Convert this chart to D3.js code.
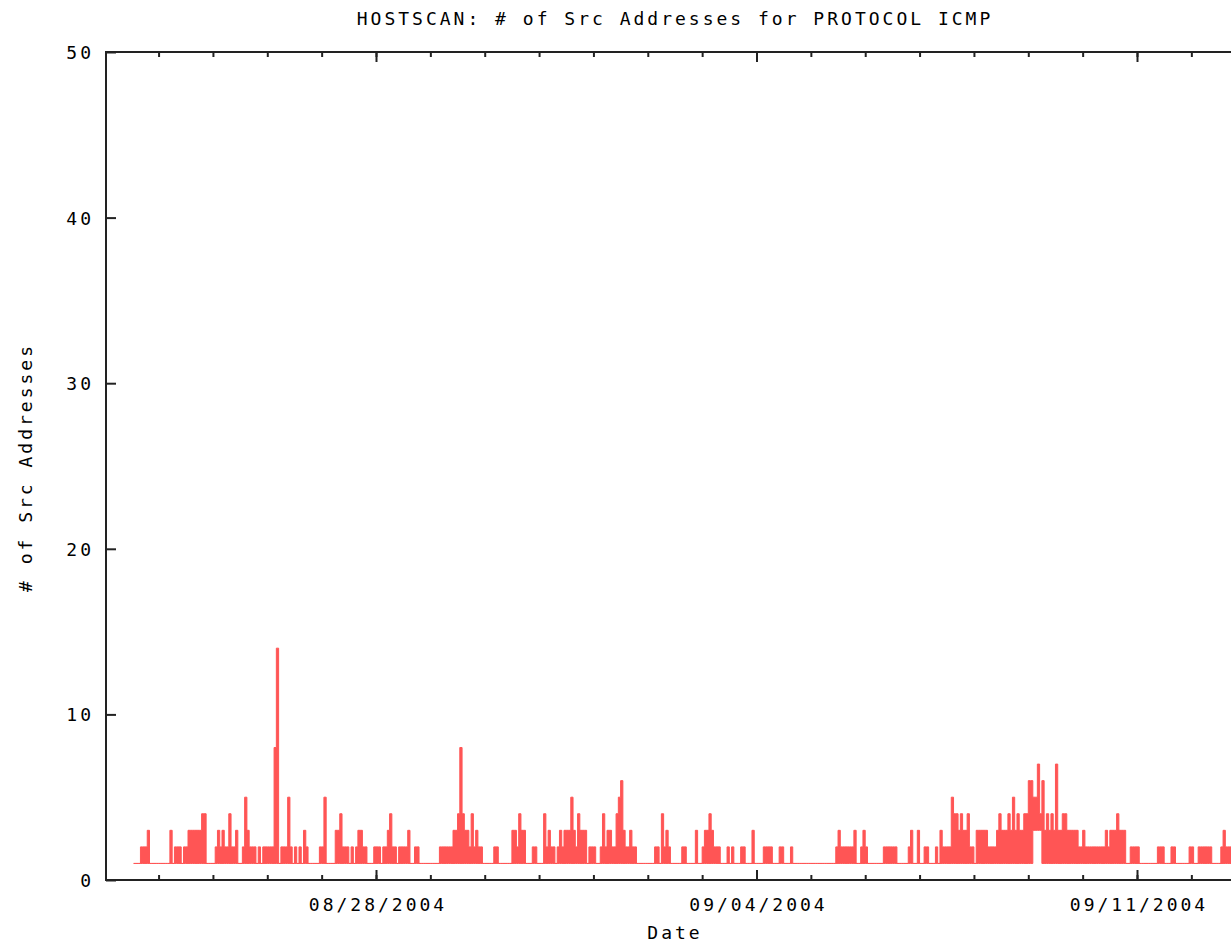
<!DOCTYPE html>
<html>
<head>
<meta charset="utf-8">
<script src="https://cdn.jsdelivr.net/npm/d3@7/dist/d3.min.js"></script>
<style>
  body { margin: 0; background: #fff; }
  text { font-family: "DejaVu Sans Mono", monospace; font-size: 18px; letter-spacing: 3px; fill: #000; }
</style>
</head>
<body>
<div id="chart"></div>
<script>
// hourly number of src addresses, first value = 08/23/2004 13:00
var startHour = new Date(2004, 7, 23, 13);
var counts = [
  1,1,1,2,2,2,3,1,1,1,1,                                  // 08/23 13h-23h
  1,1,1,1,1,3,1,2,2,2,1,2,2,3,3,3,3,3,3,4,4,1,1,1,        // 08/24
  1,2,3,2,3,2,2,4,2,2,3,1,1,2,5,3,2,2,2,1,2,1,2,2,        // 08/25
  2,2,2,8,14,1,2,2,2,5,2,1,2,1,2,1,3,2,1,1,1,1,1,2,       // 08/26
  2,5,1,1,1,1,3,3,4,2,2,2,1,2,1,2,3,3,2,2,1,1,1,2,        // 08/27
  2,2,1,2,2,3,4,2,2,1,2,2,2,2,3,1,1,2,2,1,1,1,1,1,        // 08/28
  1,1,1,1,2,2,2,2,2,2,3,3,4,8,4,3,3,2,4,2,3,2,2,1,        // 08/29
  1,1,1,1,2,2,1,1,1,1,1,1,3,3,2,4,3,3,1,1,1,2,2,1,        // 08/30
  1,1,4,2,3,2,2,1,2,3,2,3,3,3,5,3,2,4,3,3,3,1,2,2,        // 08/31
  2,1,1,2,4,2,3,3,2,2,4,5,6,3,2,2,3,2,2,1,1,1,1,1,        // 09/01
  1,1,1,2,2,1,4,2,3,2,1,1,1,1,1,2,2,1,1,1,1,3,1,1,        // 09/02
  2,3,3,4,3,2,2,2,1,1,1,2,1,2,1,1,1,2,2,1,1,1,3,1,        // 09/03
  1,1,1,2,2,2,2,1,1,1,2,2,1,1,1,2,1,1,1,1,1,1,1,1,        // 09/04
  1,1,1,1,1,1,1,1,1,1,1,2,3,2,2,2,2,2,2,3,1,1,2,3,        // 09/05
  2,1,1,1,1,1,1,1,2,2,2,2,2,2,1,1,1,1,1,2,3,1,1,3,        // 09/06
  1,1,2,2,1,1,1,2,1,3,2,2,2,2,5,4,4,3,4,3,3,4,2,2,        // 09/07
  1,3,3,3,3,3,2,2,2,2,3,4,3,3,3,4,3,5,3,4,3,3,4,4,        // 09/08
  6,6,5,5,7,4,6,3,4,3,4,3,7,3,3,4,4,3,3,3,3,3,2,2,        // 09/09
  3,2,2,2,2,2,2,2,2,2,3,2,3,3,3,4,3,3,3,1,1,2,2,2,        // 09/10
  2,1,1,1,1,1,1,1,1,2,2,2,1,1,1,2,2,1,1,1,1,1,1,2,        // 09/11
  2,1,1,2,2,2,2,2,2,1,1,1,1,2,3,2,2,2                     // 09/12 0h-17h
];
// hours where the count never fell back to 1
var floorHours = [397, 398, 399, 400];
var floorValues = [3, 3, 3, 3];

var yTicks = [0, 10, 20, 30, 40, 50];
var dateTicks = ["08/28/2004", "09/04/2004", "09/11/2004"];
var title = "HOSTSCAN: # of Src Addresses for PROTOCOL ICMP";

var w = 1231, h = 944;
var plot = {left: 106, right: 1241, top: 52, bottom: 880};
var lineColor = "#ff5555";

var parseDate = d3.timeParse("%m/%d/%Y");
var fmt = d3.timeFormat("%m/%d/%Y");

var x = d3.scaleTime()
  .domain([parseDate(dateTicks[0]), parseDate(dateTicks[2])])
  .range([376, 1137]);
var y = d3.scaleLinear().domain([0, 50]).range([plot.bottom, plot.top]);

var svg = d3.select("#chart").append("svg")
  .attr("width", w)
  .attr("height", h);

svg.append("clipPath").attr("id", "clip")
  .append("rect")
  .attr("x", plot.left).attr("y", plot.top)
  .attr("width", plot.right - plot.left)
  .attr("height", plot.bottom - plot.top);

var data = counts.map(function(v, i) {
  var k = floorHours.indexOf(i);
  return {t: d3.timeHour.offset(startHour, i), hi: v, lo: k >= 0 ? floorValues[k] : 1};
});
data.push({t: d3.timeHour.offset(startHour, counts.length), hi: counts[counts.length - 1], lo: 1});

var area = d3.area()
  .curve(d3.curveStepAfter)
  .x(function(d) { return x(d.t); })
  .y0(function(d) { return y(d.lo); })
  .y1(function(d) { return y(d.hi); });

svg.append("path")
  .attr("clip-path", "url(#clip)")
  .attr("d", area(data))
  .attr("fill", lineColor)
  .attr("stroke", lineColor)
  .attr("stroke-width", 1);

// ticks
var days = d3.timeDay.range(x.invert(plot.left), x.invert(plot.right));
var majors = dateTicks.map(parseDate);

function styleAxis(g) {
  g.select(".domain").remove();
  g.selectAll("line").attr("stroke", "#222").attr("stroke-width", 2);
  g.selectAll("text").attr("font-family", null).attr("font-size", null);
}

svg.append("g")
  .attr("transform", "translate(0," + plot.bottom + ")")
  .call(d3.axisBottom(x).tickValues(days).tickSize(-5).tickFormat(""))
  .call(styleAxis);
svg.append("g")
  .attr("transform", "translate(0," + plot.top + ")")
  .call(d3.axisTop(x).tickValues(days).tickSize(-5).tickFormat(""))
  .call(styleAxis);
svg.append("g")
  .attr("transform", "translate(0," + plot.bottom + ")")
  .call(d3.axisBottom(x).tickValues(majors).tickSize(-10).tickPadding(18).tickFormat(fmt))
  .call(styleAxis)
  .selectAll("text").attr("dx", 1.5);
svg.append("g")
  .attr("transform", "translate(0," + plot.top + ")")
  .call(d3.axisTop(x).tickValues(majors).tickSize(-10).tickFormat(""))
  .call(styleAxis);
svg.append("g")
  .attr("transform", "translate(" + plot.left + ",0)")
  .call(d3.axisLeft(y).tickValues(yTicks).tickSize(-10).tickPadding(12))
  .call(styleAxis)
  .selectAll("text").attr("dy", "0.36em");

// border
svg.append("path")
  .attr("d", "M" + plot.right + "," + plot.top + "H" + plot.left + "V" + plot.bottom + "H" + plot.right)
  .attr("fill", "none")
  .attr("stroke", "#222")
  .attr("stroke-width", 2);

svg.append("text")
  .attr("x", (plot.left + plot.right) / 2 + 1.5)
  .attr("y", 25)
  .attr("text-anchor", "middle")
  .text(title);

svg.append("text")
  .attr("x", (plot.left + plot.right) / 2 + 1.5)
  .attr("y", 939)
  .attr("text-anchor", "middle")
  .text("Date");

svg.append("text")
  .attr("transform", "translate(32," + ((plot.top + plot.bottom) / 2 + 1.5) + ") rotate(-90)")
  .attr("text-anchor", "middle")
  .text("# of Src Addresses");
</script>
</body>
</html>
